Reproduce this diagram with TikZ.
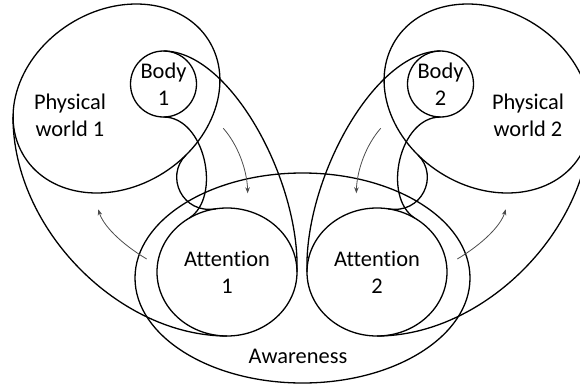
\documentclass[tikz,border=0pt]{standalone}
\usepackage{fontspec}
\setmainfont{Carlito}[Ligatures=CommonOff]
\usetikzlibrary{shapes.geometric,arrows.meta}
\newcommand{\labelfont}{\fontsize{22.4}{27}\selectfont}
\begin{document}
\begin{tikzpicture}[x=1pt,y=-1pt,
  outline/.style={line width=1.3pt},
  blob/.style={draw,outline,inner sep=0pt,outer sep=0pt,align=center,font=\labelfont},
  lbl/.style={align=center,font=\labelfont},
  flow/.style={draw=black!70,line width=0.8pt,-{Stealth[length=6pt,width=4.5pt]}}]
\useasboundingbox (0,0) rectangle (580,391);
\clip (0,0) rectangle (580,391);
% physical worlds
\draw[outline,rotate around={32.4:(116.5,98.5)}] (116.5,98.5) ellipse [x radius=109pt,y radius=88pt];
\draw[outline,rotate around={-32.4:(487.5,98.5)}] (487.5,98.5) ellipse [x radius=109pt,y radius=88pt];
\node[lbl] (world1) at (70,115) {Physical\\world 1};
\node[lbl] (world2) at (528,115) {Physical\\world 2};
\coordinate (w1west) at (13,117);
\coordinate (w1neck) at (186,155);
\coordinate (w2east) at (591,117);
\coordinate (w2neck) at (418,155);
% bodies, attention, awareness
\node[blob,circle,minimum size=66pt] (body1) at (163.5,84) {Body\\1};
\node[blob,circle,minimum size=66pt] (body2) at (440.5,84) {Body\\2};
\node[blob,ellipse,minimum width=140pt,minimum height=128pt] (att1) at (227,272) {Attention\\1};
\node[blob,ellipse,minimum width=140pt,minimum height=128pt] (att2) at (377,272) {Attention\\2};
\node[blob,ellipse,minimum width=335pt,minimum height=210pt] (aware) at (302.5,278) {};
\node[lbl] (awaretxt) at (298,356) {Awareness};
% left loop
\draw[outline] (body1.north) .. controls (230,51) and (300,180) .. (att1.east);
\draw[outline] (w1west) .. controls (13,230) and (120,336) .. (att1.south);
\draw[outline] (body1.south) .. controls (205,117) and (222,197) .. (att1.125);
\draw[outline] (w1neck) .. controls (164.7,176) and (182,214.5) .. (att1.100);
% right loop
\draw[outline] (body2.north) .. controls (374,51) and (304,180) .. (att2.west);
\draw[outline] (w2east) .. controls (591,230) and (484,336) .. (att2.south);
\draw[outline] (body2.south) .. controls (399,117) and (382,197) .. (att2.55);
\draw[outline] (w2neck) .. controls (439.3,176) and (422,214.5) .. (att2.80);
% flows
\coordinate (f1a) at (223.3,128.3);
\coordinate (f1b) at (247.7,193.3);
\coordinate (f2a) at (380.7,128.3);
\coordinate (f2b) at (356.3,193.3);
\coordinate (f3a) at (146.7,259);
\coordinate (f3b) at (98.3,209.3);
\coordinate (f4a) at (457.3,259);
\coordinate (f4b) at (505.7,209.3);
\draw[flow] (f1a) .. controls (238,145) and (247,170) .. (f1b);
\draw[flow] (f2a) .. controls (366,145) and (357,170) .. (f2b);
\draw[flow] (f3a) .. controls (120,243) and (103,225) .. (f3b);
\draw[flow] (f4a) .. controls (484,243) and (501,225) .. (f4b);
\end{tikzpicture}
\end{document}
